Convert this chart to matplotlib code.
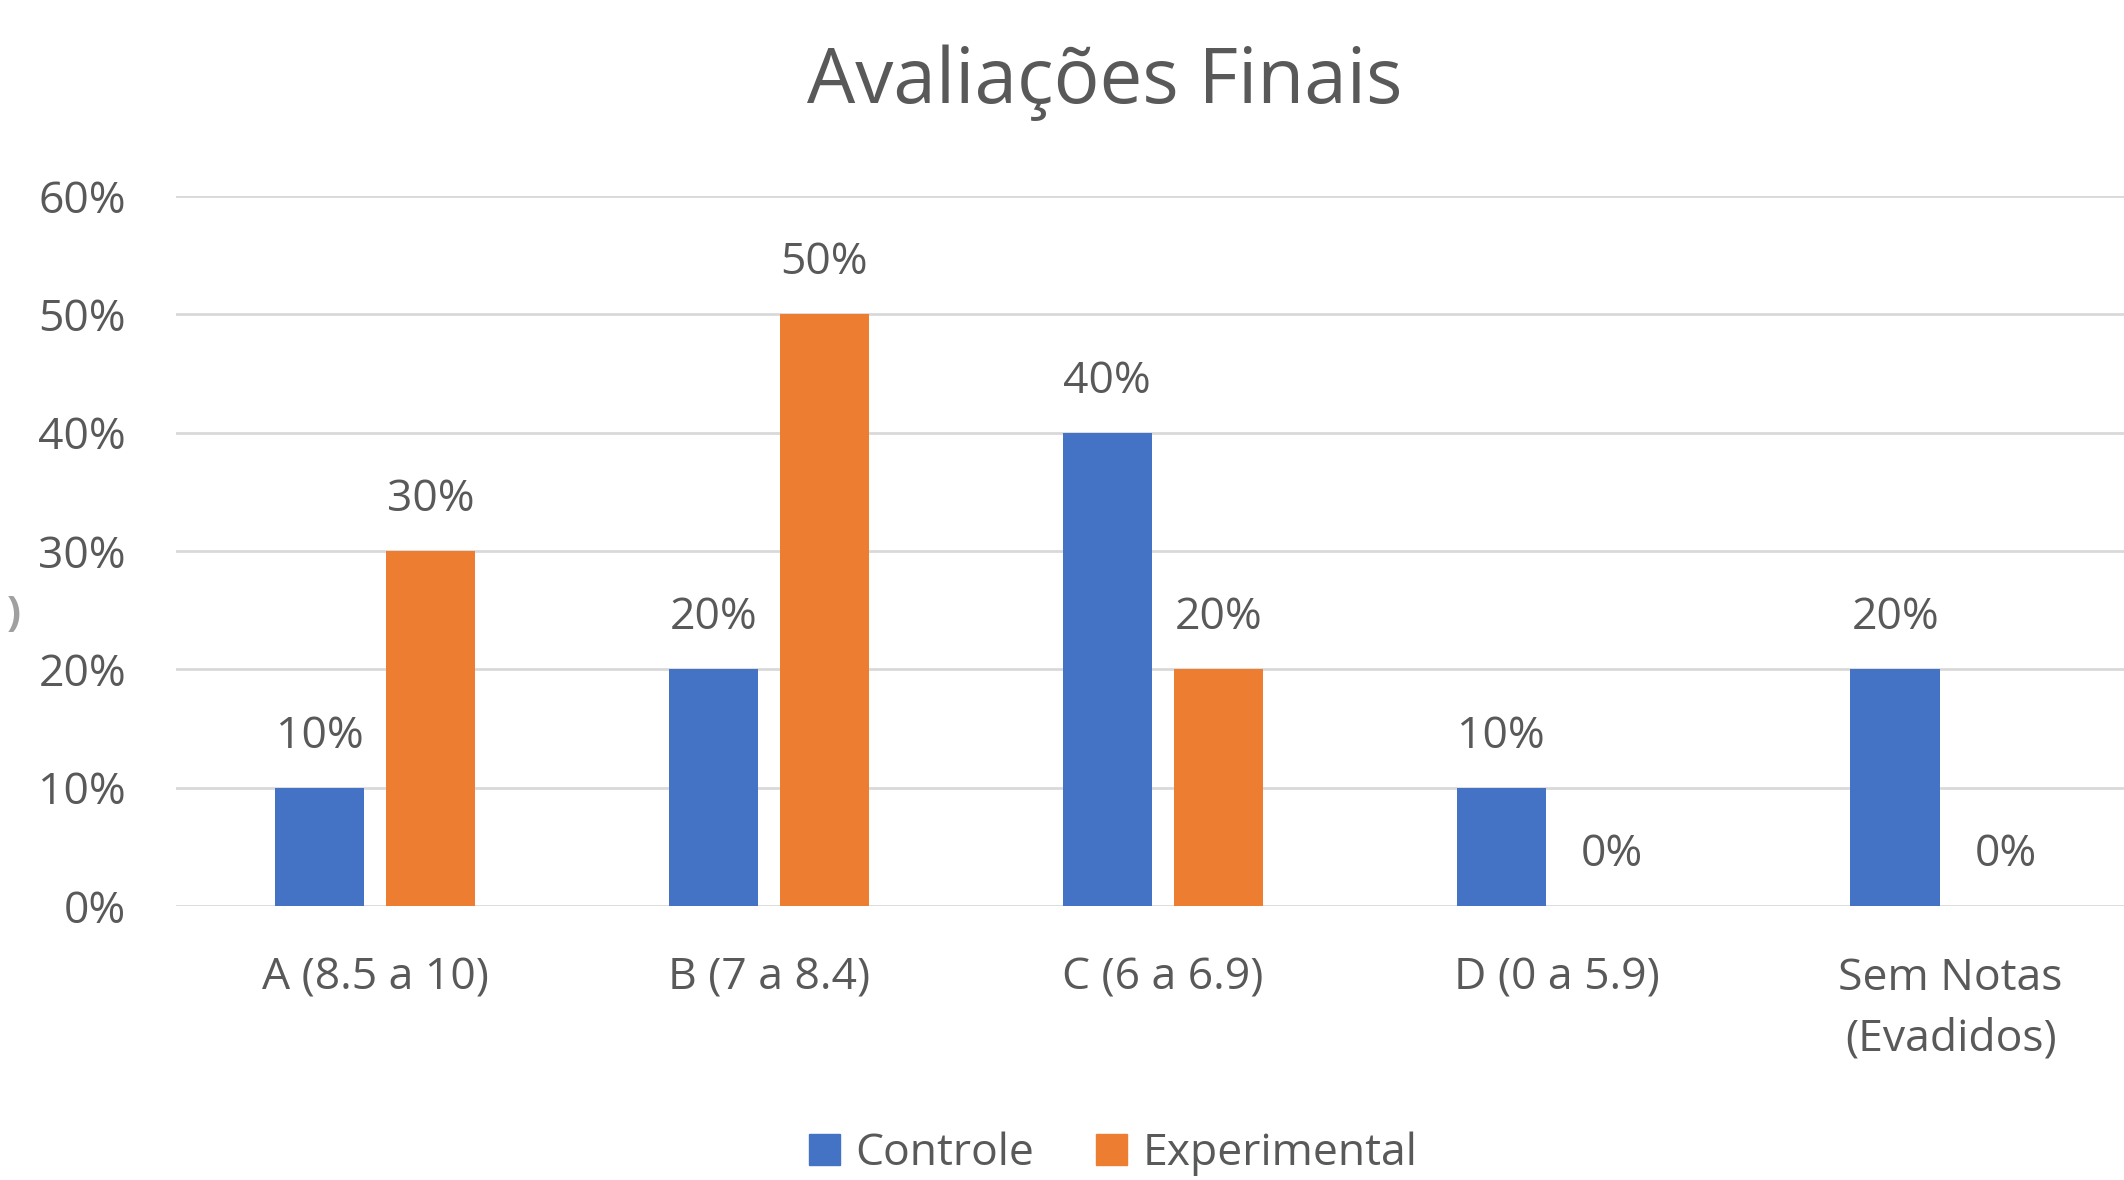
import numpy as np
import matplotlib
matplotlib.use("Agg")
import matplotlib.pyplot as plt
from matplotlib.patches import Patch

categories = ["A (8.5 a 10)", "B (7 a 8.4)", "C (6 a 6.9)", "D (0 a 5.9)", "Sem Notas\n(Evadidos)"]
controle = [10, 20, 40, 10, 20]
experimental = [30, 50, 20, 0, 0]
series_names = ["Controle", "Experimental"]
yticks = [0, 10, 20, 30, 40, 50, 60]

blue = "#4472C4"
orange = "#ED7D31"
text_col = "#595959"
grid_col = "#D9D9D9"
fs = 32

plt.rcParams["font.family"] = ["Open Sans", "DejaVu Sans"]

fig = plt.figure(figsize=(21.24, 11.8), dpi=100)
ax = fig.add_axes([0.0829, 0.2322, 1 - 0.0829, 0.6017])

x = np.arange(len(categories))
w = 0.227
off = 0.141
b1 = ax.bar(x - off, controle, w, color=blue, zorder=3)
b2 = ax.bar(x + off, experimental, w, color=orange, zorder=3)

# labels above bars
for bars, vals in [(b1, controle), (b2, experimental)]:
    for rect, v in zip(bars, vals):
        ax.annotate(f"{v}%", (rect.get_x() + rect.get_width() / 2, v),
                    xytext=(0, 37), textcoords="offset points",
                    ha="center", va="center", fontsize=fs, color=text_col)

ax.set_xlim(-0.505, 4.44)
ax.set_ylim(0, 60)
ax.set_yticks(yticks)
ax.set_yticklabels([f"{t}%" for t in yticks])
ax.set_xticks(x)
ax.set_xticklabels(categories, linespacing=1.5)
ax.tick_params(axis="y", length=0, pad=36, labelsize=fs, labelcolor=text_col)
ax.tick_params(axis="x", length=0, pad=36, labelsize=fs, labelcolor=text_col)
ax.grid(axis="y", color=grid_col, linewidth=2, zorder=0)
for s in ax.spines.values():
    s.set_visible(False)

fig.suptitle("Avaliações Finais", x=0.52, y=1 - 83 / 1180, va="center",
             fontsize=55, color=text_col)

handles = [Patch(color=blue), Patch(color=orange)]
fig.legend(handles, series_names, loc="center", bbox_to_anchor=(0.524, 1 - 1154 / 1180),
           ncol=2, frameon=False, fontsize=fs, labelcolor=text_col,
           handlelength=0.7, handleheight=0.7, handletextpad=0.34, columnspacing=1.4)

fig.text(0.003, 1 - 616 / 1180, ")", fontsize=30, fontweight="bold", color="#A0A0A0", va="center")

fig.savefig("out.png", dpi=100, facecolor="white")
